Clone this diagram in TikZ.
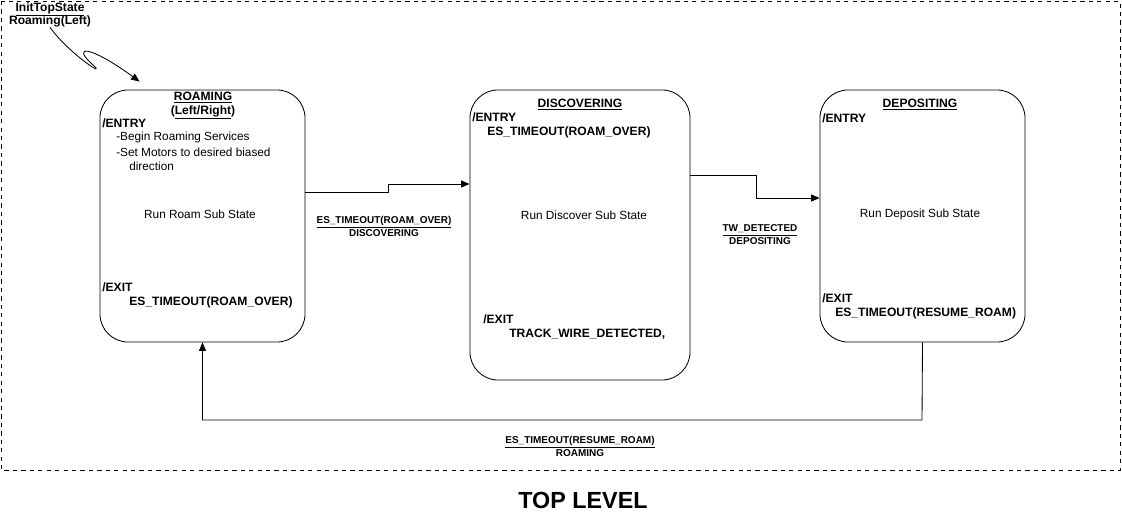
\documentclass[tikz,border=0pt]{standalone}
\usepackage{fontspec}
\setmainfont{Liberation Sans}
\usetikzlibrary{arrows.meta,positioning,calc}

\begin{document}
\begin{tikzpicture}[x=0.025cm, y=-0.025cm,
    statebox/.style={draw, rounded corners=20pt, minimum width=5.125cm, minimum height=6.3cm, line width=0.6pt},
    title/.style={font=\fontsize{8.6}{9}\selectfont\bfseries, inner sep=0pt, text height=6.2pt, text depth=1.8pt},
    tag/.style={font=\fontsize{8.6}{9}\selectfont\bfseries, anchor=west, inner sep=0pt},
    act/.style={font=\fontsize{8.4}{9}\selectfont, anchor=west, inner sep=0pt},
    body/.style={font=\fontsize{8.4}{9}\selectfont, inner sep=0pt},
    evt/.style={font=\fontsize{8.6}{9}\selectfont\bfseries, anchor=west, inner sep=0pt},
    trans/.style={font=\fontsize{7.1}{9.2}\selectfont\bfseries, align=center, inner sep=0pt},
    flow/.style={-{Triangle[length=6pt,width=5pt]}, line width=0.6pt}
]
    \useasboundingbox (0,0) rectangle (1122,524);
    % outer frame
    \draw[dashed, line width=0.5pt] (1,1) rectangle (1120,470);

    % initial state
    \node[title] (init) at (50,8) {\underline{InitTopState}};
    \node[title] (initsub) at (50,21.5) {Roaming(Left)};

    % states
    \node[statebox] (roam) at (202.5,216) {};
    \node[statebox, minimum width=5.5cm, minimum height=7.25cm] (disc) at (580,235) {};
    \node[statebox] (depo) at (922.5,216) {};

    % roaming contents
    \node[title] (roamname) at (203,97) {\underline{ROAMING}};
    \node[title] (roamdir) at (203,111) {(\underline{Left/Right})};
    \node[tag] (roamentry) at (102,123) {/ENTRY};
    \node[act] (roamact1) at (116,137) {-Begin Roaming Services};
    \node[act] (roamact2) at (116,152) {-Set Motors to desired biased};
    \node[act] (roamact3) at (129,166) {direction};
    \node[body] (roamrun) at (200,214) {Run Roam Sub State};
    \node[tag] (roamexit) at (102,287) {/EXIT};
    \node[evt] (roamevt) at (129,302) {ES\_TIMEOUT(ROAM\_OVER)};

    % discovering contents
    \node[title] (discname) at (580,104) {\underline{DISCOVERING}};
    \node[tag] (discentry) at (472,117) {/ENTRY};
    \node[evt] (discevt1) at (487,132) {ES\_TIMEOUT(ROAM\_OVER)};
    \node[body] (discrun) at (584,215) {Run Discover Sub State};
    \node[tag] (discexit) at (483,319) {/EXIT};
    \node[evt] (discevt2) at (509,334) {TRACK\_WIRE\_DETECTED,};

    % depositing contents
    \node[title] (deponame) at (920,104) {\underline{DEPOSITING}};
    \node[tag] (depoentry) at (822,118) {/ENTRY};
    \node[body] (deporun) at (920,214) {Run Deposit Sub State};
    \node[tag] (depoexit) at (822,298) {/EXIT};
    \node[evt] (depoevt) at (835,313) {ES\_TIMEOUT(RESUME\_ROAM)};

    % transitions
    \coordinate (initend) at ($(roam.north west)+(40,-8)$);
    \draw[flow] (initsub.south) .. controls (70,55) and (110,80) .. (92,64)
        .. controls (72,46) and (88,44) .. (initend);
    \draw[flow] (roam.east |- 0,192) -- (388,192) |- (disc.west |- 0,184);
    \draw[flow] (disc.east |- 0,175) -- (756,175) |- (depo.west |- 0,198);
    \draw[flow] (depo.south) -- (922,420) -| (roam.south);

    \node[trans] (lbldisc) at (384,226) {\underline{ES\_TIMEOUT(ROAM\_OVER)}\\DISCOVERING};
    \node[trans] (lbldepo) at (760,235) {\underline{TW\_DETECTED}\\DEPOSITING};
    \node[trans] (lblroam) at (580,446) {\underline{ES\_TIMEOUT(RESUME\_ROAM)}\\ROAMING};

    \node[font=\fontsize{16.6}{18}\selectfont\bfseries] (level) at (583,500) {TOP LEVEL};
\end{tikzpicture}
\end{document}
